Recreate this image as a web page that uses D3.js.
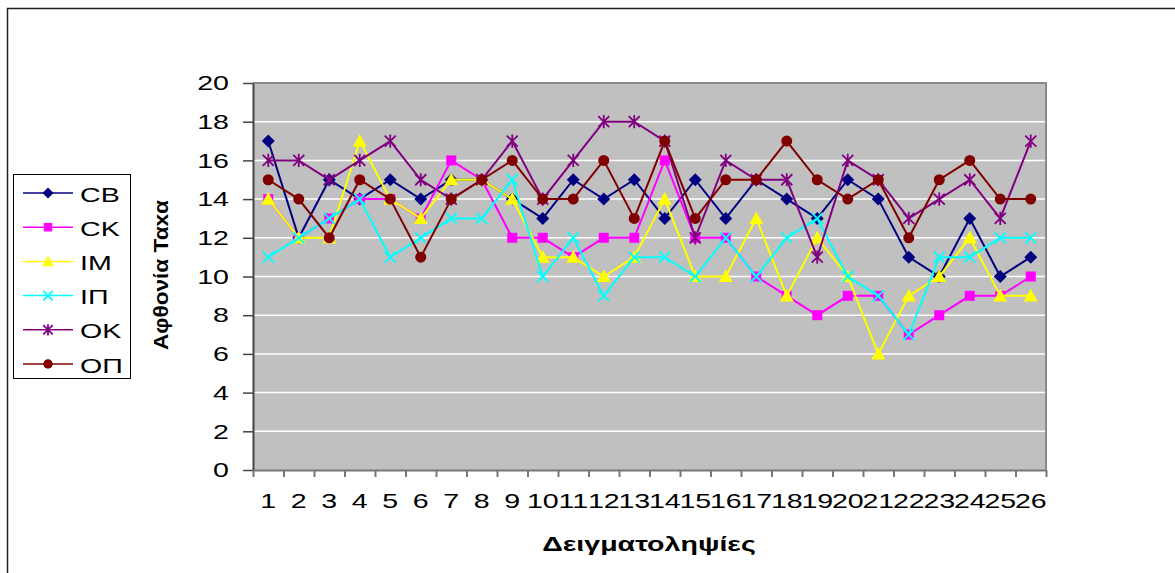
<!DOCTYPE html>
<html>
<head>
<meta charset="utf-8">
<script src="https://cdn.jsdelivr.net/npm/d3@7"></script>
<style>
  body { margin: 0; background: #fff; }
  text { font-family: Arial, "Liberation Sans", sans-serif; }
</style>
</head>
<body>
<script>
// categories (sampling number) and series values
const samples = d3.range(1, 27).map(String);
const seriesNames = ["CB", "CK", "IM", "IΠ", "OK", "OΠ"];
const cbValues = [17, 12, 15, 14, 15, 14, 15, 15, 14, 13, 15, 14, 15, 13, 15, 13, 15, 14, 13, 15, 14, 11, 10, 13, 10, 11];
const ckValues = [14, 12, 13, 14, 14, 13, 16, 15, 12, 12, 11, 12, 12, 16, 12, 12, 10, 9, 8, 9, 9, 7, 8, 9, 9, 10];
const imValues = [14, 12, 12, 17, 14, 13, 15, 15, 14, 11, 11, 10, 11, 14, 10, 10, 13, 9, 12, 10, 6, 9, 10, 12, 9, 9];
const ipValues = [11, 12, 13, 14, 11, 12, 13, 13, 15, 10, 12, 9, 11, 11, 10, 12, 10, 12, 13, 10, 9, 7, 11, 11, 12, 12];
const okValues = [16, 16, 15, 16, 17, 15, 14, 15, 17, 14, 16, 18, 18, 17, 12, 16, 15, 15, 11, 16, 15, 13, 14, 15, 13, 17];
const opValues = [15, 14, 12, 15, 14, 11, 14, 15, 16, 14, 14, 16, 13, 17, 13, 15, 15, 17, 15, 14, 15, 12, 15, 16, 14, 14];
const yTicks = d3.range(0, 21, 2);
const yTitle = "Αφθονία Ταxα";
const xTitle = "Δειγματοληψίες";

(function () {
    const W = 1175, H = 573;
    const plot = { left: 253, right: 1046, top: 83, bottom: 470 };
    const STRETCH = 1.36; // the original text is drawn wider than normal Arial

    // widen text glyphs horizontally (along the text direction)
    function stretch(sel, factor) {
        sel.each(function () {
            const w = this.getComputedTextLength();
            d3.select(this)
                .attr("textLength", w * (factor || STRETCH))
                .attr("lengthAdjust", "spacingAndGlyphs");
        });
    }

    const svg = d3.select("body").append("svg")
        .attr("width", W)
        .attr("height", H);

    // outer chart frame (right and bottom go off the picture)
    svg.append("rect")
        .attr("x", 7.5).attr("y", 8.5)
        .attr("width", 1200).attr("height", 600)
        .attr("fill", "none")
        .attr("stroke", "#222")
        .attr("stroke-width", 1.5);

    const series = [
        { name: seriesNames[0], values: cbValues, color: "#000080", marker: "diamond" },
        { name: seriesNames[1], values: ckValues, color: "#FF00FF", marker: "square" },
        { name: seriesNames[2], values: imValues, color: "#FFFF00", marker: "triangle" },
        { name: seriesNames[3], values: ipValues, color: "#00FFFF", marker: "cross" },
        { name: seriesNames[4], values: okValues, color: "#800080", marker: "star" },
        { name: seriesNames[5], values: opValues, color: "#800000", marker: "circle" }
    ];

    // scales
    const x = d3.scaleBand().domain(samples).range([plot.left, plot.right]);
    const xEdge = d3.scaleLinear().domain([0, samples.length]).range([plot.left, plot.right]);
    const y = d3.scaleLinear().domain([0, 20]).range([plot.bottom, plot.top]);
    const cx = d => x(d) + x.bandwidth() / 2;

    // plot background
    svg.append("rect")
        .attr("x", plot.left).attr("y", plot.top)
        .attr("width", plot.right - plot.left)
        .attr("height", plot.bottom - plot.top)
        .attr("fill", "#C0C0C0");

    // gridlines
    svg.append("g").selectAll("line")
        .data(yTicks.filter(t => t > 0 && t < 20))
        .join("line")
        .attr("x1", plot.left).attr("x2", plot.right)
        .attr("y1", d => y(d)).attr("y2", d => y(d))
        .attr("stroke", "#fff")
        .attr("stroke-width", 1.5);

    // top / right border of plot area
    svg.append("path")
        .attr("d", `M${plot.left},${plot.top}H${plot.right}V${plot.bottom}`)
        .attr("fill", "none")
        .attr("stroke", "#8a8a8a")
        .attr("stroke-width", 2);

    // y axis
    const yAxis = svg.append("g")
        .attr("transform", `translate(${plot.left},0)`)
        .call(d3.axisLeft(y).tickValues(yTicks).tickSize(10).tickPadding(14).tickSizeOuter(0));
    yAxis.select(".domain").attr("stroke", "#444").attr("stroke-width", 2);
    yAxis.selectAll(".tick line").attr("stroke", "#444").attr("stroke-width", 1.5);
    yAxis.selectAll("text").attr("font-size", 21).attr("fill", "#000")
        .style("font-family", "Arial, 'Liberation Sans', sans-serif")
        .call(stretch);

    // x axis: ticks on category edges, labels centred
    const xTickAxis = svg.append("g")
        .attr("transform", `translate(0,${plot.bottom})`)
        .call(d3.axisBottom(xEdge).tickValues(d3.range(0, samples.length + 1)).tickFormat("").tickSize(7).tickSizeOuter(0));
    xTickAxis.select(".domain").attr("stroke", "#777").attr("stroke-width", 2);
    xTickAxis.selectAll(".tick line").attr("stroke", "#777").attr("stroke-width", 2);

    const xLabelAxis = svg.append("g")
        .attr("transform", `translate(0,${plot.bottom})`)
        .call(d3.axisBottom(x).tickSize(0).tickPadding(23));
    xLabelAxis.select(".domain").remove();
    xLabelAxis.selectAll("text").attr("font-size", 21).attr("fill", "#000")
        .style("font-family", "Arial, 'Liberation Sans', sans-serif")
        .call(stretch);

    // axis titles
    svg.append("text")
        .attr("transform", "translate(168,275) rotate(-90)")
        .attr("text-anchor", "middle")
        .attr("font-size", 21)
        .attr("font-weight", "bold")
        .text(yTitle)
        .attr("textLength", 150)
        .attr("lengthAdjust", "spacingAndGlyphs");

    svg.append("text")
        .attr("x", 649).attr("y", 551)
        .attr("text-anchor", "middle")
        .attr("font-size", 21)
        .attr("font-weight", "bold")
        .text(xTitle)
        .call(stretch);

    // marker drawing
    function drawMarker(g, type, px, py, color, scale) {
        const s = scale || 1;
        if (type === "diamond") {
            const r = 6.5 * s;
            g.append("path").attr("d", `M${px},${py - r}L${px + r},${py}L${px},${py + r}L${px - r},${py}Z`)
                .attr("fill", color);
        } else if (type === "square") {
            const r = 5 * s;
            g.append("rect").attr("x", px - r).attr("y", py - r).attr("width", 2 * r).attr("height", 2 * r)
                .attr("fill", color);
        } else if (type === "triangle") {
            const r = 7 * s;
            g.append("path").attr("d", `M${px},${py - r}L${px + r},${py + r * 0.8}L${px - r},${py + r * 0.8}Z`)
                .attr("fill", color);
        } else if (type === "cross") {
            const r = 5.5 * s;
            g.append("path").attr("d", `M${px - r},${py - r}L${px + r},${py + r}M${px + r},${py - r}L${px - r},${py + r}`)
                .attr("stroke", color).attr("stroke-width", 1.8);
        } else if (type === "star") {
            const r = 5.5 * s;
            g.append("path").attr("d", `M${px - r},${py - r}L${px + r},${py + r}M${px + r},${py - r}L${px - r},${py + r}M${px},${py - r * 1.2}L${px},${py + r * 1.2}`)
                .attr("stroke", color).attr("stroke-width", 1.8);
        } else {
            g.append("circle").attr("cx", px).attr("cy", py).attr("r", 5.5 * s)
                .attr("fill", color);
        }
    }

    // lines and markers
    const line = d3.line()
        .x((d, i) => cx(samples[i]))
        .y(d => y(d));

    series.forEach(s => {
        const g = svg.append("g");
        g.append("path")
            .attr("d", line(s.values))
            .attr("fill", "none")
            .attr("stroke", s.color)
            .attr("stroke-width", 2);
        s.values.forEach((v, i) => drawMarker(g, s.marker, cx(samples[i]), y(v), s.color));
    });

    // legend
    const legend = svg.append("g");
    legend.append("rect")
        .attr("x", 13.5).attr("y", 174.5)
        .attr("width", 117).attr("height", 204)
        .attr("fill", "#fff")
        .attr("stroke", "#000")
        .attr("stroke-width", 1);

    series.forEach((s, i) => {
        const ly = 193 + i * 34.2;
        legend.append("line")
            .attr("x1", 23).attr("x2", 73)
            .attr("y1", ly).attr("y2", ly)
            .attr("stroke", s.color)
            .attr("stroke-width", 1.5);
        drawMarker(legend, s.marker, 48, ly, s.color, 0.85);
        legend.append("text")
            .attr("x", 80).attr("y", ly + 8.5)
            .attr("font-size", 21)
            .text(s.name)
            .call(stretch);
    });
})();
</script>
</body>
</html>
